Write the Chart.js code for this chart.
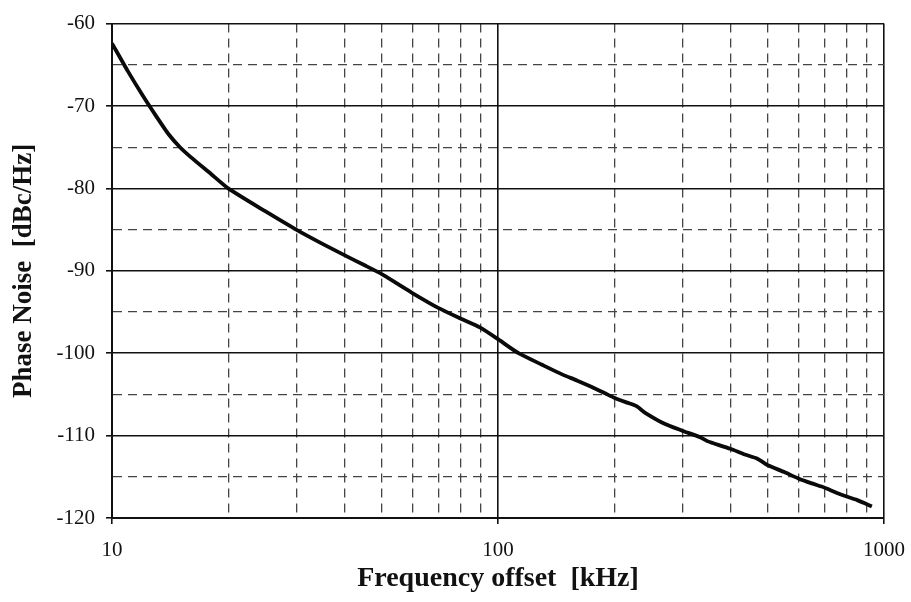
<!DOCTYPE html>
<html>
<head>
<meta charset="utf-8">
<script src="https://cdn.jsdelivr.net/npm/chart.js@4.4.1/dist/chart.umd.min.js"></script>
<style>
  html, body { margin: 0; padding: 0; background: #fff; }
  #wrap { width: 911px; height: 602px; }
</style>
</head>
<body>
<div id="wrap"><canvas id="noiseChart" width="911" height="602"></canvas></div>
<script>
// frequency offsets in kHz
const freqKHz = [10, 11, 12, 13, 14, 15, 16, 18, 20, 25, 30, 35, 40, 45, 50, 55, 60, 70, 80, 90,
    100, 113, 130, 147, 160, 175, 190, 200, 216, 228, 240, 271, 300, 334, 350, 360, 400, 436,
    470, 500, 550, 600, 650, 700, 750, 800, 850, 900, 930];
// phase noise in dBc/Hz
const phaseNoise = [-62.4, -65.8, -68.7, -71.2, -73.4, -75.0, -76.2, -78.2, -80.0, -82.8, -85.0, -86.7, -88.1, -89.3, -90.4, -91.6, -92.7, -94.5, -95.8, -96.9,
    -98.3, -100.0, -101.4, -102.6, -103.3, -104.1, -104.9, -105.4, -106.0, -106.4, -107.2, -108.6, -109.4, -110.2, -110.7, -110.9, -111.6, -112.3,
    -112.8, -113.6, -114.4, -115.2, -115.8, -116.3, -116.9, -117.4, -117.8, -118.3, -118.6];

const xMin = 10, xMax = 1000;
const yMin = -120, yMax = -60, yStep = 5;
const xLabels = [10, 100, 1000];

const serif = '"Liberation Serif", "DejaVu Serif", serif';

function isDecade(v) {
    return xLabels.includes(Math.round(v));
}

const ctx = document.getElementById('noiseChart').getContext('2d');

new Chart(ctx, {
    type: 'line',
    data: {
        datasets: [{
            data: freqKHz.map((f, i) => ({ x: f, y: phaseNoise[i] })),
            borderColor: '#0a0a0a',
            borderWidth: 3.8,
            pointRadius: 0,
            tension: 0.2,
            fill: false
        }]
    },
    plugins: [{
        id: 'whiteBg',
        beforeDraw(chart) {
            const c = chart.ctx;
            c.save();
            c.fillStyle = '#fff';
            c.fillRect(0, 0, chart.width, chart.height);
            c.restore();
        }
    }],
    options: {
        responsive: false,
        animation: false,
        layout: { padding: { top: 22, right: 27, left: 8, bottom: 6 } },
        plugins: {
            legend: { display: false },
            tooltip: { enabled: false }
        },
        scales: {
            x: {
                type: 'logarithmic',
                min: xMin,
                max: xMax,
                afterBuildTicks: (scale) => {
                    const t = [];
                    for (let d = 10; d < 1000; d *= 10) {
                        for (let m = 1; m < 10; m++) t.push({ value: d * m });
                    }
                    t.push({ value: 1000 });
                    scale.ticks = t;
                },
                afterFit: (scale) => {
                    scale.height = 78;
                    scale.paddingRight = 0;
                    scale.paddingLeft = 0;
                },
                ticks: {
                    autoSkip: false,
                    maxRotation: 0,
                    color: '#111',
                    padding: 14,
                    font: { family: serif, size: 21 },
                    callback: (v) => isDecade(v) ? String(Math.round(v)) : ''
                },
                grid: {
                    color: (c) => (c.tick && isDecade(c.tick.value)) ? '#111' : '#444',
                    lineWidth: (c) => (c.tick && isDecade(c.tick.value)) ? 1.6 : 1.3,
                    tickLength: 6,
                    tickColor: (c) => (c.tick && isDecade(c.tick.value)) ? '#111' : 'rgba(0,0,0,0)'
                },
                border: {
                    color: '#111',
                    width: 2,
                    dash: (c) => (c.tick && !isDecade(c.tick.value)) ? [9, 6] : []
                },
                title: {
                    display: true,
                    text: 'Frequency offset  [kHz]',
                    color: '#111',
                    font: { family: serif, size: 28, weight: 'bold' },
                    padding: { top: 4, bottom: 0 }
                }
            },
            y: {
                min: yMin,
                max: yMax,
                ticks: {
                    stepSize: yStep,
                    color: '#111',
                    padding: 11,
                    font: { family: serif, size: 21 },
                    callback: (v) => (v % 10 === 0) ? String(v) : ''
                },
                afterFit: (scale) => { scale.width = 104; },
                grid: {
                    color: (c) => (c.tick && c.tick.value % 10 === 0) ? '#111' : '#444',
                    lineWidth: (c) => (c.tick && c.tick.value % 10 === 0) ? 1.6 : 1.3,
                    tickLength: 6,
                    tickColor: (c) => (c.tick && c.tick.value % 10 === 0) ? '#111' : 'rgba(0,0,0,0)'
                },
                border: {
                    color: '#111',
                    width: 2,
                    dash: (c) => (c.tick && c.tick.value % 10 !== 0) ? [9, 6] : []
                },
                title: {
                    display: true,
                    text: 'Phase Noise  [dBc/Hz]',
                    color: '#111',
                    font: { family: serif, size: 27, weight: 'bold' },
                    padding: { top: 0, bottom: 4 }
                }
            }
        }
    }
});
</script>
</body>
</html>
